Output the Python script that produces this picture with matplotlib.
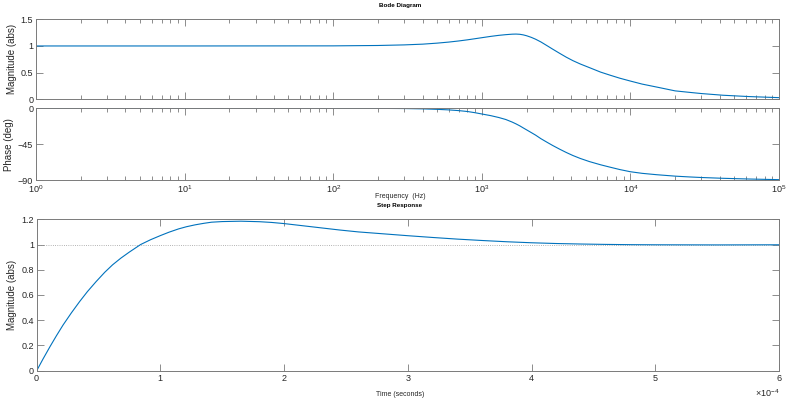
import numpy as np
import matplotlib
matplotlib.use('Agg')
import matplotlib.pyplot as plt
from matplotlib.ticker import ScalarFormatter, LogLocator

plt.rcParams['font.family'] = ['Liberation Sans', 'DejaVu Sans']
plt.rcParams['mathtext.default'] = 'regular'

# Bode data
freq_hz = [1, 10, 100, 200, 300, 400, 500, 600, 700, 800, 900, 1000, 1150, 1300,
           1450, 1600, 1700, 1800, 1900, 2000, 2150, 2300, 2500, 2750, 3000, 3350,
           3700, 4100, 4600, 5300, 6300, 7300, 8500, 10000, 12000, 15000, 20000,
           25000, 30000, 42000, 63000, 100000]
mag_abs = [1.0, 1.0, 1.002, 1.009, 1.02, 1.034, 1.053, 1.073, 1.094, 1.115, 1.136,
           1.155, 1.18, 1.199, 1.212, 1.221, 1.223, 1.219, 1.208, 1.192, 1.162,
           1.127, 1.075, 1.005, 0.94, 0.86, 0.79, 0.725, 0.662, 0.594, 0.51, 0.452,
           0.395, 0.342, 0.285, 0.23, 0.158, 0.13, 0.108, 0.076, 0.051, 0.031]
phase_deg = [0.0, 0.0, -0.05, -0.1, -0.3, -0.7, -1.3, -2.0, -2.9, -4.0, -5.5, -7.1,
             -9.2, -11.5, -14.0, -17.2, -19.5, -21.9, -24.5, -26.9, -30.3, -33.5,
             -38.0, -42.5, -46.5, -51.2, -55.2, -59.0, -62.7, -66.6, -70.6, -73.6,
             -76.6, -79.3, -81.3, -83.0, -84.8, -85.8, -86.5, -87.5, -88.4, -89.2]

# step response
time_s = [0, 0.05e-4, 0.107e-4, 0.16e-4, 0.213e-4, 0.28e-4, 0.347e-4, 0.41e-4,
          0.48e-4, 0.55e-4, 0.613e-4, 0.68e-4, 0.747e-4, 0.84e-4, 0.92e-4, 1.0e-4,
          1.07e-4, 1.147e-4, 1.21e-4, 1.28e-4, 1.35e-4, 1.413e-4, 1.5e-4, 1.65e-4,
          1.8e-4, 1.9e-4, 2.0e-4, 2.15e-4, 2.3e-4, 2.45e-4, 2.6e-4, 2.8e-4, 3.0e-4,
          3.2e-4, 3.4e-4, 3.6e-4, 3.8e-4, 4.0e-4, 4.2e-4, 4.4e-4, 4.6e-4, 4.8e-4,
          5.0e-4, 5.5e-4, 6.0e-4]
step_amp = [0.0, 0.091, 0.19, 0.278, 0.362, 0.458, 0.548, 0.627, 0.706, 0.78,
            0.839, 0.892, 0.939, 1.0, 1.038, 1.071, 1.098, 1.124, 1.141, 1.156,
            1.168, 1.177, 1.182, 1.185, 1.181, 1.175, 1.166, 1.149, 1.132, 1.115,
            1.1, 1.085, 1.07, 1.056, 1.043, 1.032, 1.022, 1.014, 1.008, 1.004,
            1.001, 0.999, 0.998, 0.997, 0.998]
final_value = 1.0

line_col = '#0072BD'
axis_col = '#7a7a7a'
text_col = '#262626'

W, H = 788, 405
fig = plt.figure(figsize=(W / 100, H / 100), dpi=100)

def px_axes(x0, y0, x1, y1):
    return fig.add_axes([x0 / W, 1 - y1 / H, (x1 - x0) / W, (y1 - y0) / H])

def style(ax):
    for s in ax.spines.values():
        s.set_color(axis_col)
        s.set_linewidth(0.7)
    ax.tick_params(which='both', direction='in', top=True, right=True,
                   colors=axis_col, labelcolor=text_col, labelsize=6.5,
                   width=0.6, pad=2)
    ax.tick_params(which='major', length=5)
    ax.tick_params(which='minor', length=3)

# magnitude
ax1 = px_axes(36, 19.3, 779, 99.3)
ax1.plot(freq_hz, mag_abs, color=line_col, lw=0.8)
ax1.set_xscale('log')
ax1.set_xlim(1, 1e5)
ax1.set_ylim(0, 1.5)
ax1.set_yticks([0, 0.5, 1, 1.5])
ax1.set_yticklabels(['0', '0.5', '1', '1.5'])
ax1.xaxis.set_minor_locator(LogLocator(base=10, subs=np.arange(2, 10)))
ax1.tick_params(axis='x', which='both', labelbottom=False)
ax1.set_ylabel('Magnitude (abs)', fontsize=7, color=text_col, labelpad=3)
style(ax1)

# phase
ax2 = px_axes(36, 108.3, 779, 180.3)
ax2.plot(freq_hz, phase_deg, color=line_col, lw=0.8)
ax2.set_xscale('log')
ax2.set_xlim(1, 1e5)
ax2.set_ylim(-90, 0)
ax2.set_yticks([-90, -45, 0])
ax2.set_xticks([1, 10, 100, 1e3, 1e4, 1e5])
ax2.set_xticklabels(['$10^{%d}$' % k for k in range(6)])
ax2.xaxis.set_minor_locator(LogLocator(base=10, subs=np.arange(2, 10)))
ax2.set_ylabel('Phase (deg)', fontsize=7, color=text_col, labelpad=3)
style(ax2)

# step response
ax3 = px_axes(36.7, 219.3, 779, 370.7)
ax3.axhline(final_value, color='#9a9a9a', lw=0.6, ls=':')
ax3.plot(time_s, step_amp, color=line_col, lw=0.8)
ax3.set_xlim(0, 6e-4)
ax3.set_ylim(0, 1.2)
ax3.set_yticks(np.arange(0, 1.21, 0.2))
ax3.set_yticklabels(['0', '0.2', '0.4', '0.6', '0.8', '1', '1.2'])
ax3.set_xticks(np.arange(0, 6.01e-4, 1e-4))
fmt = ScalarFormatter(useMathText=True)
fmt.set_powerlimits((-4, -4))
ax3.xaxis.set_major_formatter(fmt)
ax3.xaxis.get_offset_text().set_fontsize(6.5)
ax3.set_ylabel('Magnitude (abs)', fontsize=7, color=text_col, labelpad=3)
style(ax3)

fig.text(400 / W, 1 - 5.5 / H, 'Bode Diagram', fontsize=4.5, fontweight='bold',
         ha='center', va='center', color='black')
fig.text(400 / W, 1 - 196 / H, 'Frequency  (Hz)', fontsize=5, ha='center',
         va='center', color=text_col)
fig.text(400 / W, 1 - 205 / H, 'Step Response', fontsize=4.5, fontweight='bold',
         ha='center', va='center', color='black')
fig.text(400 / W, 1 - 395 / H, 'Time (seconds)', fontsize=5, ha='center',
         va='center', color=text_col)

fig.savefig('out.png', dpi=100)
